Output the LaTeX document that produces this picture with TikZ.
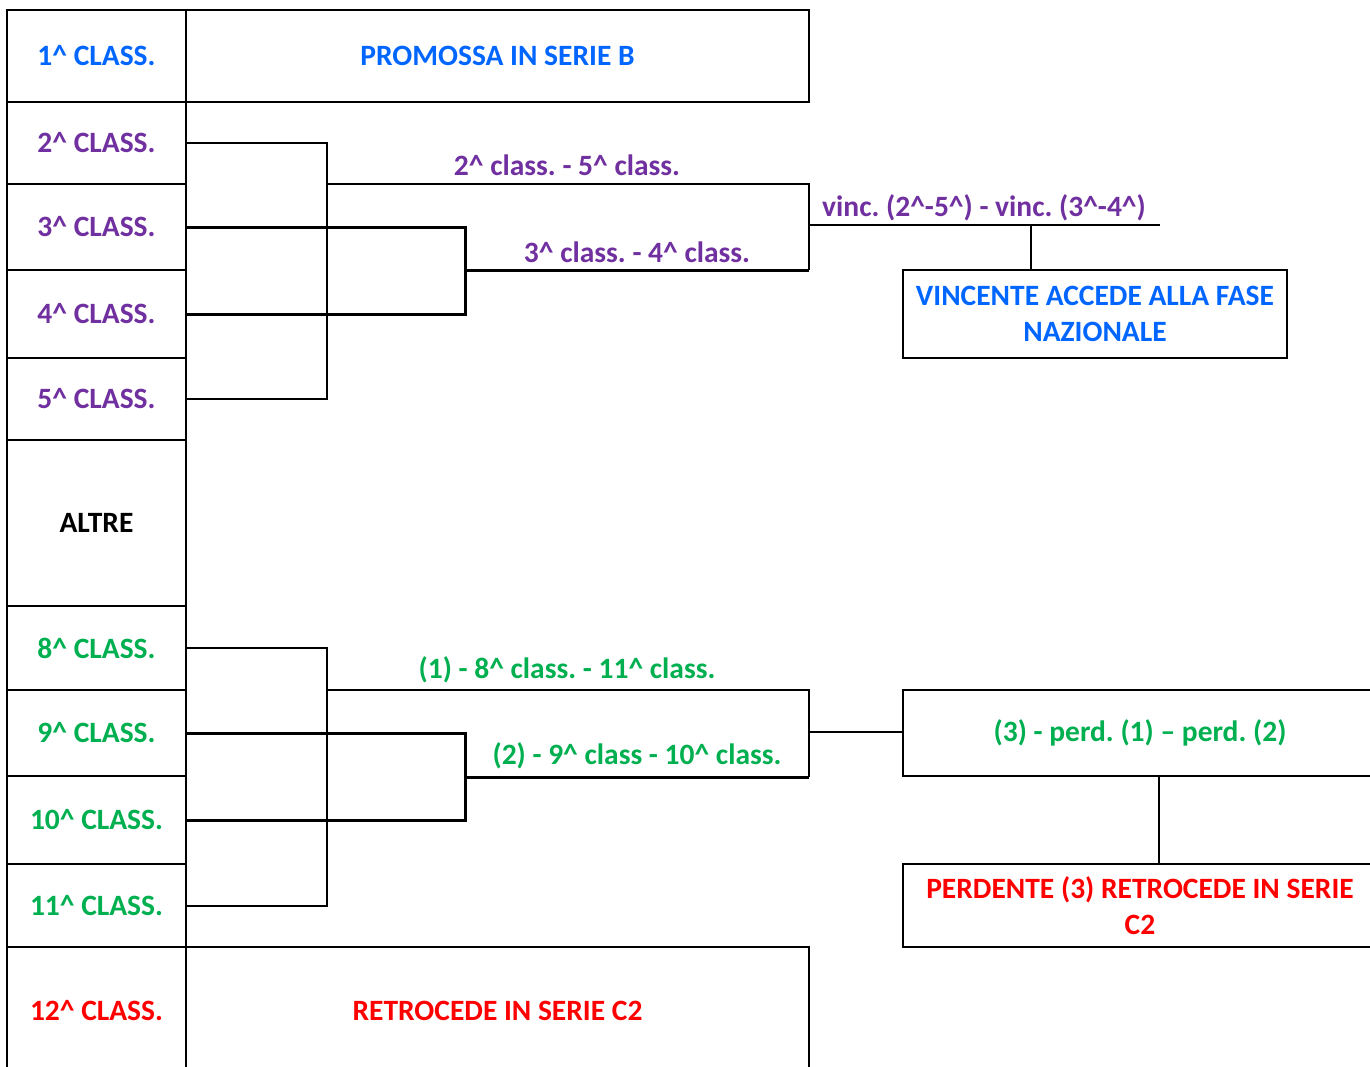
\documentclass[tikz,border=0pt]{standalone}
\usepackage{fontspec}
\setmainfont{Carlito}
\usepackage{tikz}
\definecolor{azzurro}{RGB}{0,102,255}
\definecolor{viola}{RGB}{112,48,160}
\definecolor{verde}{RGB}{0,176,80}
\definecolor{rosso}{RGB}{255,0,0}
\newcommand{\crt}{\textasciicircum}
\frenchspacing

\begin{document}
\begin{tikzpicture}[x=0.5pt,y=-0.5pt,
    testo/.style={font=\fontsize{14.75}{18}\selectfont\bfseries,inner sep=0pt},
    cella/.style={testo,draw=black,line width=1pt,minimum width=89.5pt,align=center},
    riquadro/.style={cella,minimum width=311.5pt},
    esito/.style={cella,minimum width=192pt},
    sottile/.style={line width=1pt},
    spesso/.style={line width=1.5pt}]
                \useasboundingbox (0,0) rectangle (1370,1066);
                \fill[white] (0,0) rectangle (1370,1066);
                % colonna delle classifiche
                \node[cella,text=azzurro,minimum height=46pt] (c1) at (96.5,56) {1\crt{} CLASS.};
                \node[cella,text=viola,minimum height=41pt] (c2) at (96.5,143) {2\crt{} CLASS.};
                \node[cella,text=viola,minimum height=43pt] (c3) at (96.5,227) {3\crt{} CLASS.};
                \node[cella,text=viola,minimum height=44pt] (c4) at (96.5,314) {4\crt{} CLASS.};
                \node[cella,text=viola,minimum height=41pt] (c5) at (96.5,399) {5\crt{} CLASS.};
                \node[cella,text=black,minimum height=83pt] (altre) at (96.5,523) {ALTRE};
                \node[cella,text=verde,minimum height=42pt] (c8) at (96.5,648) {8\crt{} CLASS.};
                \node[cella,text=verde,minimum height=43pt] (c9) at (96.5,733) {9\crt{} CLASS.};
                \node[cella,text=verde,minimum height=44pt] (c10) at (96.5,820) {10\crt{} CLASS.};
                \node[cella,text=verde,minimum height=41.5pt] (c11) at (96.5,905.5) {11\crt{} CLASS.};
                \node[cella,text=rosso,minimum height=64pt] (c12) at (96.5,1011) {12\crt{} CLASS.};
                \node[riquadro,text=azzurro,minimum height=46pt] (promo) at (497.5,56) {PROMOSSA IN SERIE B};
                \node[riquadro,text=rosso,minimum height=64pt] (retro) at (497.5,1011) {RETROCEDE IN SERIE C2};
                % play-off
                \coordinate (q25) at (327,184);
                \coordinate (q34) at (465,270);
                \coordinate (f1) at (809,225);
                \draw[sottile] (c2.east) -| (q25) |- (c5.east);
                \draw[spesso] (c3.east) -| (q34) |- (c4.east);
                \draw[sottile] (q25) -- (q25 -| f1) -- (q34 -| f1);
                \draw[spesso] (q34) -- (q34 -| f1);
                \node[testo,text=viola] (l25) at (567,165) {2\crt{} class. - 5\crt{} class.};
                \node[testo,text=viola] (l34) at (637,252) {3\crt{} class. - 4\crt{} class.};
                \node[testo,text=viola] (lfin) at (984,208) {vinc. (2\crt-5\crt) - vinc. (3\crt-4\crt)};
                \node[cella,text=azzurro,minimum width=192pt,minimum height=44pt] (naz) at (1095,314) {VINCENTE ACCEDE ALLA FASE\\NAZIONALE};
                \coordinate (fend) at (1160,225);
                \coordinate (v1) at (1031,225);
                \draw[sottile] (f1) -- (fend);
                \draw[sottile] (v1) -- (v1 |- naz.north);
                % play-out
                \coordinate (p811) at (327,690);
                \coordinate (p910) at (465,777);
                \coordinate (g1) at (809,732);
                \draw[sottile] (c8.east) -| (p811) |- (c11.east);
                \draw[spesso] (c9.east) -| (p910) |- (c10.east);
                \draw[sottile] (p811) -- (p811 -| g1) -- (p910 -| g1);
                \draw[spesso] (p910) -- (p910 -| g1);
                \node[testo,text=verde] (l811) at (567,670) {(1) - 8\crt{} class. - 11\crt{} class.};
                \node[testo,text=verde] (l910) at (637,756) {(2) - 9\crt{} class - 10\crt{} class.};
                \node[esito,text=verde,minimum width=237pt,minimum height=43pt] (spar) at (1140,733) {(3) - perd. (1) – perd. (2)};
                \node[esito,text=rosso,minimum width=237pt,minimum height=41.5pt] (perd) at (1140,905.5) {PERDENTE (3) RETROCEDE IN SERIE\\C2};
                \coordinate (v2) at (1159,776);
                \draw[sottile] (g1) -- (g1 -| spar.west);
                \draw[sottile] (v2 |- spar.south) -- (v2 |- perd.north);
            \end{tikzpicture}
\end{document}
